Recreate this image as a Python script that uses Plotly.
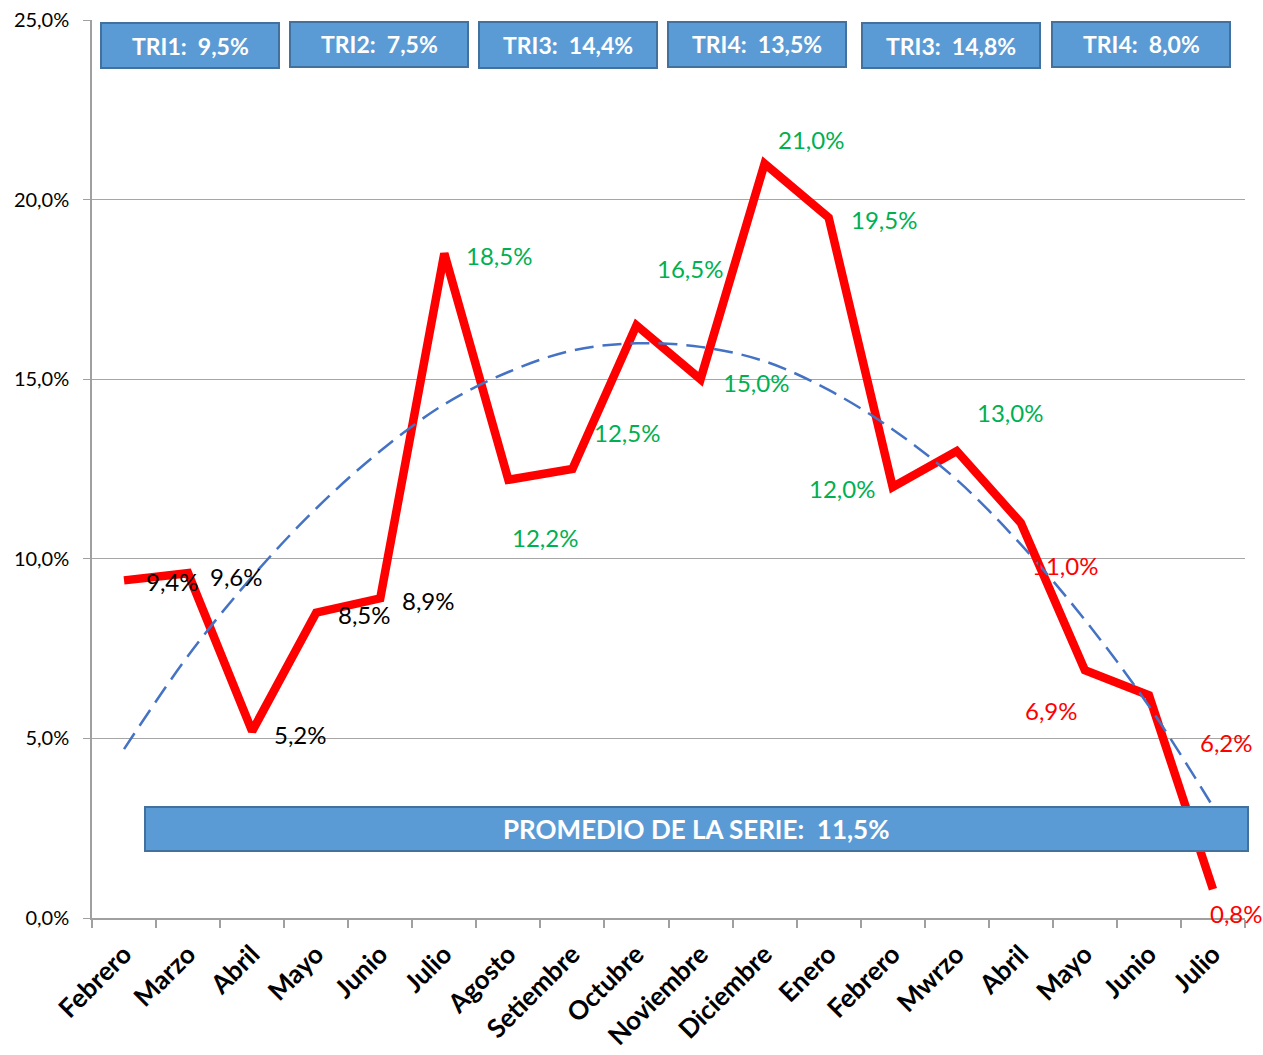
import plotly.graph_objects as go

# ---------------- data ----------------
months = ["Febrero", "Marzo", "Abril", "Mayo", "Junio", "Julio", "Agosto",
          "Setiembre", "Octubre", "Noviembre", "Diciembre", "Enero",
          "Febrero", "Mwrzo", "Abril", "Mayo", "Junio", "Julio"]
values = [9.4, 9.6, 5.2, 8.5, 8.9, 18.5, 12.2, 12.5, 16.5, 15.0, 21.0, 19.5,
          12.0, 13.0, 11.0, 6.9, 6.2, 0.8]
trend = [4.7, 7.3, 9.5, 11.4, 13.0, 14.3, 15.2, 15.8, 16.0, 15.9, 15.5, 14.7,
         13.6, 12.2, 10.4, 8.3, 5.9, 3.1]
y_ticks = [0, 5, 10, 15, 20, 25]
y_tick_labels = ["0,0%", "5,0%", "10,0%", "15,0%", "20,0%", "25,0%"]
tri_labels = ["TRI1:  9,5%", "TRI2:  7,5%", "TRI3:  14,4%", "TRI4:  13,5%",
              "TRI3:  14,8%", "TRI4:  8,0%"]
promedio_label = "PROMEDIO DE LA SERIE:  11,5%"

# ---------------- styles ----------------
label_colors = (["#000000"] * 5 + ["#00B050"] * 9 + ["#FF0000"] * 4)
# pixel offsets of each data label (dx right, dy down)
label_offsets = [(48, 1), (48, 3), (48, 3), (48, 2), (48, 2),
                 (55, 2), (37, 58), (55, -37), (54, -57), (55, 3),
                 (46, -24), (55, 2), (-51, 2), (53, -39),
                 (44, 43), (-33, 40), (78, 47), (24, 24)]

FONT = "Lato, 'Open Sans', sans-serif"
W, H = 1263, 1055
ML, MR, MT, MB = 92, 18, 20, 137
PW, PH = W - ML - MR, H - MT - MB


def px_x(p):
    return (p - ML) / PW


def px_y(p):
    return (H - MB - p) / PH


xs = list(range(len(months)))

fig = go.Figure()
fig.add_trace(go.Scatter(
    x=xs, y=values, mode="lines",
    line=dict(color="#FF0000", width=8.5),
    hoverinfo="skip", showlegend=False))
fig.add_trace(go.Scatter(
    x=xs, y=trend, mode="lines",
    line=dict(color="#4472C4", width=2.5, dash="19px,9px", shape="spline"),
    hoverinfo="skip", showlegend=False))

annotations = []
for i, v in enumerate(values):
    dx, dy = label_offsets[i]
    annotations.append(dict(
        x=xs[i], y=v, xref="x", yref="y",
        text=f"{v:.1f}".replace(".", ",") + "%",
        showarrow=False, xshift=dx, yshift=-dy,
        xanchor="center", yanchor="middle",
        font=dict(family=FONT, size=24, color=label_colors[i])))

shapes = []
tri_boxes = [(101, 279, 23, 68), (290, 468, 22, 67), (479, 657, 22, 68),
             (668, 846, 22, 67), (862, 1040, 23, 68), (1052, 1230, 22, 67)]
for (x0, x1, y0, y1), t in zip(tri_boxes, tri_labels):
    shapes.append(dict(type="rect", xref="paper", yref="paper",
                       x0=px_x(x0), x1=px_x(x1), y0=px_y(y1), y1=px_y(y0),
                       fillcolor="#5B9BD5", line=dict(color="#41719C", width=2),
                       layer="above"))
    annotations.append(dict(
        x=px_x((x0 + x1) / 2), y=px_y((y0 + y1) / 2), xref="paper", yref="paper",
        xanchor="center", yanchor="middle",
        text=t.replace(" ", "\u00a0"), showarrow=False,
        font=dict(family=FONT, size=23, color="white", weight="bold")))

bx0, bx1, by0, by1 = 145, 1248, 807, 851
shapes.append(dict(type="rect", xref="paper", yref="paper",
                   x0=px_x(bx0), x1=px_x(bx1), y0=px_y(by1), y1=px_y(by0),
                   fillcolor="#5B9BD5", line=dict(color="#41719C", width=2),
                   layer="above"))
annotations.append(dict(
    x=px_x((bx0 + bx1) / 2), y=px_y((by0 + by1) / 2), xref="paper", yref="paper",
    xanchor="center", yanchor="middle",
    text=promedio_label.replace(" ", "\u00a0"), showarrow=False,
    font=dict(family=FONT, size=26, color="white", weight="bold")))

fig.update_layout(
    width=W, height=H,
    margin=dict(l=ML, r=MR, t=MT, b=MB, autoexpand=False),
    plot_bgcolor="white", paper_bgcolor="white",
    annotations=annotations, shapes=shapes,
    font=dict(family=FONT, color="black"),
    xaxis=dict(
        range=[-0.5, len(months) - 0.5],
        tickmode="array", tickvals=xs, ticktext=months,
        ticks="", ticklabelstandoff=9,
        minor=dict(tick0=-0.5, dtick=1, ticks="outside", ticklen=8,
                   tickcolor="#A0A0A0", tickwidth=1.5, showgrid=False),
        tickangle=-45, showgrid=False, zeroline=False,
        showline=True, linecolor="#A0A0A0", linewidth=1.5,
        tickfont=dict(family=FONT, size=26, color="black", weight="bold")),
    yaxis=dict(
        range=[0, 25], tickmode="array", tickvals=y_ticks, ticktext=y_tick_labels,
        ticks="outside", ticklen=7, tickcolor="#A0A0A0", ticklabelstandoff=10,
        showgrid=True, gridcolor="#A6A6A6", gridwidth=1, zeroline=False,
        showline=True, linecolor="#A0A0A0", linewidth=1.5,
        tickfont=dict(family=FONT, size=20, color="black")),
)

fig.write_html("out.html", config={"displayModeBar": False},
               post_script="document.body.style.margin='0';")
